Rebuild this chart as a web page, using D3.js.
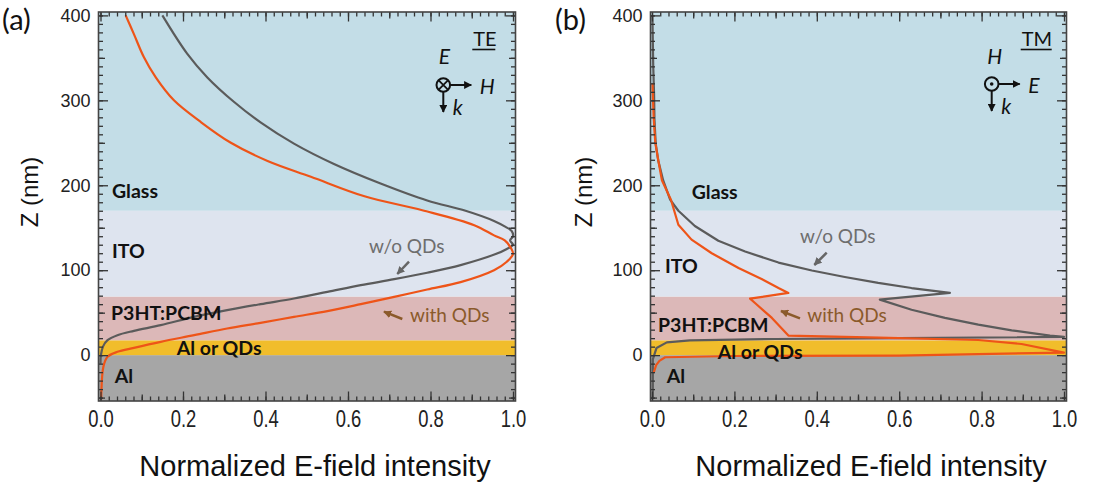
<!DOCTYPE html>
<html>
<head>
<meta charset="utf-8">
<script src="https://cdn.jsdelivr.net/npm/d3@7"></script>
<style>
  body { margin: 0; background: #fff; }
  svg { display: block; }
</style>
</head>
<body>
<div id="chart"></div>
<script>
// ---- values ----
// layer stack, bottom to top (z in nm)
const layerNames = ["Al", "Al or QDs", "P3HT:PCBM", "ITO", "Glass"];
const layerEdges = [-54, 0, 17.5, 69, 170, 404];
const layerColors = ["#a6a6a6", "#f1bd2b", "#dcb8b8", "#dee4ef", "#c3dde7"];

// normalized E-field intensity profiles, [intensity, z (nm)]
const teWithout = [[0.150,400],[0.210,355],[0.259,327],[0.324,298],[0.388,274],[0.469,249],[0.566,225],
  [0.679,202],[0.792,182],[0.885,170],[0.954,158],[0.982,151],[0.997,146],[1.0,140],[0.993,135],[1.0,130],
  [0.985,125],[0.958,119],[0.873,106],[0.792,97],[0.712,89.4],[0.631,82.4],[0.550,74.5],[0.469,66.7],
  [0.388,60],[0.307,52.9],[0.227,45],[0.146,35.3],[0.081,28.6],[0.041,23.5],[0.017,17.6],[0.006,10],
  [0.001,0],[0.0,-10]];
const teWith = [[0.061,400],[0.081,378],[0.105,351],[0.134,327],[0.178,300],[0.243,274.5],[0.316,250],
  [0.405,228.6],[0.510,210],[0.640,187],[0.780,170.6],[0.906,153],[0.954,141],[0.980,135],[0.995,126],
  [1.0,119],[0.985,110],[0.954,100],[0.873,86],[0.792,77.3],[0.712,68.6],[0.631,60],[0.550,51.8],
  [0.469,45],[0.388,38],[0.307,31.4],[0.227,23.5],[0.146,15.7],[0.081,8.6],[0.041,3.9],[0.017,-2],
  [0.007,-13.7],[0.002,-45],[0.002,-52]];
const tmWithout = [[0.001,400],[0.003,340],[0.005,308],[0.006,277],[0.009,249],[0.015,229.5],[0.027,206],
  [0.044,183],[0.064,170],[0.104,152],[0.161,134.7],[0.226,122],[0.307,109],[0.388,99.7],[0.468,92],
  [0.549,85],[0.630,79],[0.723,73.2],[0.553,65.3],[0.630,53.5],[0.711,43.8],[0.792,35.9],[0.873,29.2],
  [0.966,23],[1.0,21.5],[0.6,20],[0.3,19],[0.092,17.4],[0.036,15],[0.011,8.5],[0.002,-5],[0.002,-50]];
const tmWith = [[0.001,320],[0.004,280],[0.008,250],[0.015,230],[0.024,206],[0.046,183],[0.064,153.5],
  [0.096,136],[0.145,120],[0.210,102.6],[0.266,89.6],[0.307,79],[0.331,73.2],[0.238,66.5],[0.250,61.4],
  [0.291,43.8],[0.331,23],[0.55,20.5],[0.792,17.8],[0.897,13.1],[1.0,3],[0.6,-0.5],[0.2,-1],
  [0.032,-2.5],[0.018,-6.7],[0.010,-11.7],[0.004,-21]];

const xTickLabels = [0, 0.2, 0.4, 0.6, 0.8, 1.0];
const yTickLabels = [0, 100, 200, 300, 400];

const W = 1093, H = 488;
const grayLine = "#5b5b5b", redLine = "#ee5418", brown = "#8b5a2b";

const svg = d3.select("#chart").append("svg")
    .attr("width", W)
    .attr("height", H);

// arrow heads
const defs = svg.append("defs");
[["head-black", "#111"], ["head-gray", "#666"], ["head-brown", brown]].forEach(([id, c]) => {
    defs.append("marker")
        .attr("id", id)
        .attr("viewBox", "0 0 10 10")
        .attr("refX", 9).attr("refY", 5)
        .attr("markerUnits", "userSpaceOnUse")
        .attr("markerWidth", 8).attr("markerHeight", 8)
        .attr("orient", "auto")
        .append("path")
        .attr("d", "M0,0 L10,5 L0,10 z")
        .attr("fill", c);
});

const panels = [
    {
        tag: "(a)", mode: "TE", field1: "E", field2: "H", cross: true,
        frame: [98.5, 515.5], xRange: [100.5, 513], smooth: true,
        gray: teWithout, red: teWith,
        tagPos: [2, 30], yTitleX: 29, xTitleX: 315,
        layerLabels: [[114.7, 383], [176.7, 355], [111, 320], [112, 258], [112, 198]],
        woText: [369, 253], woArrow: [[409, 261.7], [397.3, 274]],
        withText: [410, 322], withArrow: [[402.3, 319], [384, 311.7]],
        sym: [443.3, 85]
    },
    {
        tag: "(b)", mode: "TM", field1: "H", field2: "E", cross: false,
        frame: [650.5, 1066.5], xRange: [652, 1064], smooth: false,
        gray: tmWithout, red: tmWith,
        tagPos: [555, 30], yTitleX: 583, xTitleX: 871,
        layerLabels: [[666.7, 383], [717.7, 359], [658, 331.7], [665, 272.7], [691.7, 199]],
        woText: [800, 243], woArrow: [[826.7, 252.7], [814.3, 265]],
        withText: [807.3, 322], withArrow: [[800, 318.3], [781, 311]],
        sym: [991.7, 84]
    }
];

const plotTop = 12, plotBottom = 401;

panels.forEach(p => drawPanel(p));

function drawPanel(p) {
    const g = svg.append("g");
    const [fl, fr] = p.frame;

    const x = d3.scaleLinear().domain([0, 1]).range(p.xRange);
    const y = d3.scaleLinear().domain([layerEdges[0], layerEdges[layerEdges.length - 1]]).range([plotBottom, plotTop]);

    // coloured layers
    layerNames.forEach((name, i) => {
        g.append("rect")
            .attr("x", fl)
            .attr("width", fr - fl)
            .attr("y", y(layerEdges[i + 1]))
            .attr("height", y(layerEdges[i]) - y(layerEdges[i + 1]))
            .attr("fill", layerColors[i]);
    });

    // curves
    const line = d3.line()
        .x(d => x(d[0]))
        .y(d => y(d[1]))
        .curve(p.smooth ? d3.curveCatmullRom.alpha(0.5) : d3.curveLinear);

    g.append("path")
        .datum(p.gray)
        .attr("fill", "none")
        .attr("stroke", grayLine)
        .attr("stroke-width", 2.2)
        .attr("stroke-linejoin", "round")
        .attr("d", line);

    g.append("path")
        .datum(p.red)
        .attr("fill", "none")
        .attr("stroke", redLine)
        .attr("stroke-width", 2.2)
        .attr("stroke-linejoin", "round")
        .attr("d", line);

    // layer names sit on top of the curves
    layerNames.forEach((name, i) => {
        g.append("text")
            .attr("x", p.layerLabels[i][0])
            .attr("y", p.layerLabels[i][1])
            .attr("font-family", "Lato, 'Open Sans', sans-serif")
            .attr("font-weight", "bold")
            .attr("font-size", 19.5)
            .attr("fill", "#111")
            .text(name);
    });

    // ticks pointing inward on all four sides
    const yMinor = d3.range(-50, 401, 10);
    const yMid = d3.range(-50, 401, 50).filter(v => v % 100 !== 0);
    const xMinor = d3.range(0, 1.001, 0.02);
    const xMid = [0.1, 0.3, 0.5, 0.7, 0.9];
    const tickSets = [[yMinor, xMinor, 4.5], [yMid, xMid, 6.5], [yTickLabels, xTickLabels, 9.5]];
    tickSets.forEach(([yv, xv, len]) => {
        g.append("g").attr("transform", `translate(${fl},0)`)
            .call(d3.axisLeft(y).tickValues(yv).tickSize(-len).tickFormat(""));
        g.append("g").attr("transform", `translate(${fr},0)`)
            .call(d3.axisRight(y).tickValues(yv).tickSize(-len).tickFormat(""));
        g.append("g").attr("transform", `translate(0,${plotTop})`)
            .call(d3.axisTop(x).tickValues(xv).tickSize(-len).tickFormat(""));
        g.append("g").attr("transform", `translate(0,${plotBottom})`)
            .call(d3.axisBottom(x).tickValues(xv).tickSize(-len).tickFormat(""));
    });
    g.selectAll(".domain").remove();
    g.selectAll(".tick line").attr("stroke", "#333").attr("stroke-width", 1.3);

    // frame
    g.append("rect")
        .attr("x", fl).attr("y", plotTop)
        .attr("width", fr - fl).attr("height", plotBottom - plotTop)
        .attr("fill", "none")
        .attr("stroke", "#444")
        .attr("stroke-width", 1.6);

    // tick labels
    const yLab = g.append("g").attr("transform", `translate(${fl},0)`)
        .call(d3.axisLeft(y).tickValues(yTickLabels).tickSize(0).tickPadding(8).tickFormat(d3.format("d")));
    yLab.select(".domain").remove();
    yLab.selectAll("text")
        .attr("font-family", "'Liberation Sans', Arial, sans-serif")
        .attr("font-size", 18)
        .attr("fill", "#222");

    const xLab = g.append("g").attr("transform", `translate(0,${plotBottom})`)
        .call(d3.axisBottom(x).tickValues(xTickLabels).tickSize(0).tickPadding(10).tickFormat(d3.format(".1f")));
    xLab.select(".domain").remove();
    xLab.selectAll("text")
        .attr("font-family", "'Liberation Sans', Arial, sans-serif")
        .attr("font-size", 23)
        .attr("fill", "#222")
        .attr("transform", "scale(0.8,1)");

    // axis titles
    g.append("text")
        .attr("transform", `translate(${p.yTitleX},192) rotate(-90)`)
        .attr("text-anchor", "middle")
        .attr("dominant-baseline", "central")
        .attr("font-family", "'Liberation Sans', Arial, sans-serif")
        .attr("font-size", 24)
        .attr("fill", "#111")
        .text("Z (nm)");

    g.append("text")
        .attr("x", p.xTitleX)
        .attr("y", 476)
        .attr("text-anchor", "middle")
        .attr("font-family", "'Liberation Sans', Arial, sans-serif")
        .attr("font-size", 29)
        .attr("fill", "#111")
        .text("Normalized E-field intensity");

    // panel tag
    g.append("text")
        .attr("x", p.tagPos[0]).attr("y", p.tagPos[1])
        .attr("font-family", "Lato, 'Open Sans', sans-serif")
        .attr("font-size", 29)
        .attr("fill", "#111")
        .text(p.tag);

    // curve annotations
    g.append("text")
        .attr("x", p.woText[0]).attr("y", p.woText[1])
        .attr("font-family", "Lato, 'Open Sans', sans-serif")
        .attr("font-size", 19)
        .attr("fill", "#6e6e6e")
        .text("w/o QDs");
    g.append("line")
        .attr("x1", p.woArrow[0][0]).attr("y1", p.woArrow[0][1])
        .attr("x2", p.woArrow[1][0]).attr("y2", p.woArrow[1][1])
        .attr("stroke", "#666").attr("stroke-width", 2.5)
        .attr("marker-end", "url(#head-gray)");

    g.append("text")
        .attr("x", p.withText[0]).attr("y", p.withText[1])
        .attr("font-family", "Lato, 'Open Sans', sans-serif")
        .attr("font-size", 19)
        .attr("fill", brown)
        .text("with QDs");
    g.append("line")
        .attr("x1", p.withArrow[0][0]).attr("y1", p.withArrow[0][1])
        .attr("x2", p.withArrow[1][0]).attr("y2", p.withArrow[1][1])
        .attr("stroke", brown).attr("stroke-width", 2.5)
        .attr("marker-end", "url(#head-brown)");

    // polarization sketch
    const [cx, cy] = p.sym;
    const s = g.append("g").attr("font-family", "Lato, 'Open Sans', sans-serif").attr("fill", "#111");
    s.append("text")
        .attr("x", cx + 30).attr("y", 46)
        .attr("font-size", 20)
        .text(p.mode);
    s.append("line")
        .attr("x1", cx + 29).attr("x2", cx + 29 + (p.mode === "TE" ? 23 : 31))
        .attr("y1", 49.5).attr("y2", 49.5)
        .attr("stroke", "#111").attr("stroke-width", 1.6);
    s.append("text")
        .attr("x", cx - 4.5).attr("y", 64)
        .attr("font-size", 21).attr("font-style", "italic")
        .text(p.field1);
    s.append("text")
        .attr("x", cx + 36.5).attr("y", cy + 8.5)
        .attr("font-size", 21).attr("font-style", "italic")
        .text(p.field2);
    s.append("text")
        .attr("x", cx + 9.5).attr("y", cy + 30)
        .attr("font-size", 21).attr("font-style", "italic")
        .text("k");
    s.append("circle")
        .attr("cx", cx).attr("cy", cy).attr("r", 6.8)
        .attr("fill", "none").attr("stroke", "#111").attr("stroke-width", 2);
    if (p.cross) {
        const r = 4.6;
        s.append("path")
            .attr("d", `M${cx - r},${cy - r}L${cx + r},${cy + r}M${cx - r},${cy + r}L${cx + r},${cy - r}`)
            .attr("stroke", "#111").attr("stroke-width", 1.8);
    } else {
        s.append("circle").attr("cx", cx).attr("cy", cy).attr("r", 1.8);
    }
    s.append("line")
        .attr("x1", cx + 7).attr("y1", cy).attr("x2", cx + 28).attr("y2", cy)
        .attr("stroke", "#111").attr("stroke-width", 2)
        .attr("marker-end", "url(#head-black)");
    s.append("line")
        .attr("x1", cx).attr("y1", cy + 7).attr("x2", cx).attr("y2", cy + 27)
        .attr("stroke", "#111").attr("stroke-width", 2)
        .attr("marker-end", "url(#head-black)");
}
</script>
</body>
</html>
